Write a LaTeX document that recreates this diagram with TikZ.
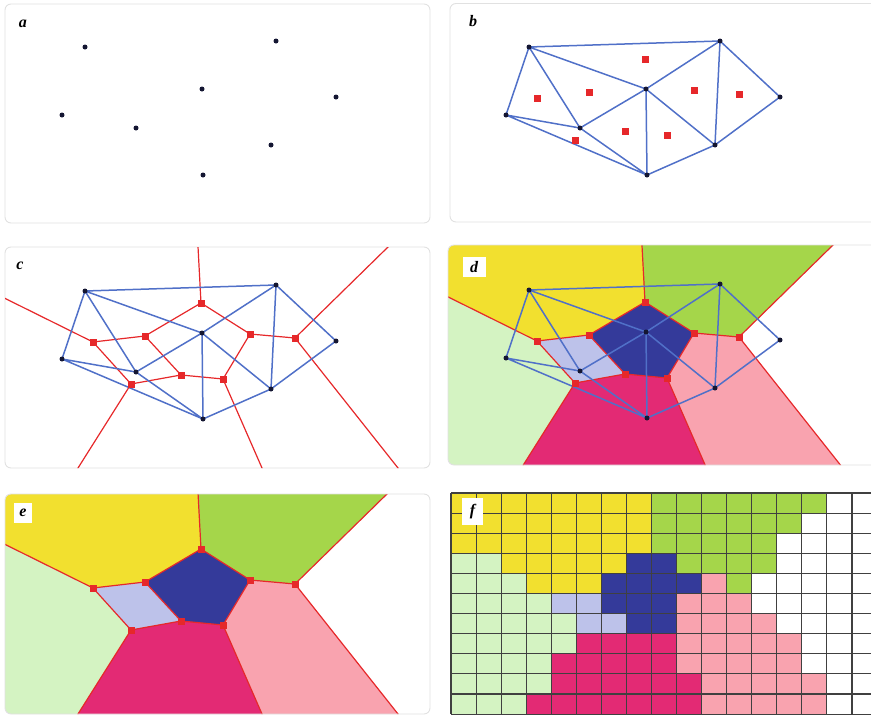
\documentclass[tikz,border=0pt]{standalone}
\usepackage{fontspec}
\setmainfont{Liberation Serif}
\begin{document}
\begin{tikzpicture}[x=1pt,y=-1pt]
\definecolor{cY}{RGB}{242,224,47}
\definecolor{cG}{RGB}{165,214,74}
\definecolor{cL}{RGB}{212,243,194}
\definecolor{cB}{RGB}{52,58,154}
\definecolor{cV}{RGB}{189,194,234}
\definecolor{cM}{RGB}{227,42,116}
\definecolor{cP}{RGB}{249,163,175}
\definecolor{cW}{RGB}{255,255,255}
\definecolor{vred}{RGB}{230,40,42}
\definecolor{delblue}{RGB}{80,112,200}
\definecolor{ptcol}{RGB}{20,22,50}
\definecolor{bord}{RGB}{225,225,225}
\tikzset{
 panel/.style={draw=bord, line width=0.9pt, rounded corners=6pt},
 dpt/.style={circle, fill=ptcol, inner sep=0pt, minimum size=5pt},
 del/.style={draw=delblue, line width=1.5pt, line join=round},
 vor/.style={draw=vred, line width=1.2pt, line join=round},
 vsq/.style={rectangle, fill=vred, inner sep=0pt, minimum size=7pt},
 lbl/.style={font=\fontsize{16}{16}\selectfont\bfseries\itshape, inner sep=0pt},
 lblbox/.style={fill=white, inner sep=0pt},
 gl/.style={draw=black!75, line width=1.1pt},
}
\useasboundingbox (0,0) rectangle (871,715);
\newcommand\mkpts[1]{%
 \coordinate (#1p1) at (85,47);
 \coordinate (#1p2) at (276,41);
 \coordinate (#1p3) at (202,89);
 \coordinate (#1p4) at (336,97);
 \coordinate (#1p5) at (62,115);
 \coordinate (#1p6) at (136,128);
 \coordinate (#1p7) at (271,145);
 \coordinate (#1p8) at (203,175);
 \coordinate (#1v1) at (201,59);
 \coordinate (#1v2) at (93,98);
 \coordinate (#1v3) at (145,92);
 \coordinate (#1v4) at (250,90);
 \coordinate (#1v5) at (295,94);
 \coordinate (#1v6) at (181,131);
 \coordinate (#1v7) at (223,135);
 \coordinate (#1v8) at (131,140);
 \coordinate (#1r1) at (196.8,-20);
 \coordinate (#1r2) at (-20,42);
 \coordinate (#1r3) at (411.5,-20);
 \coordinate (#1r4) at (418.6,250);
 \coordinate (#1r5) at (61.6,250);
 \coordinate (#1r6) at (273.4,250);
}
\newcommand\deledges[1]{%
 \draw[del] (#1p1)--(#1p2) (#1p1)--(#1p5) (#1p1)--(#1p6) (#1p1)--(#1p3)
  (#1p2)--(#1p3) (#1p2)--(#1p4) (#1p2)--(#1p7) (#1p4)--(#1p7)
  (#1p3)--(#1p7) (#1p3)--(#1p6) (#1p3)--(#1p8) (#1p5)--(#1p6)
  (#1p5)--(#1p8) (#1p6)--(#1p8) (#1p7)--(#1p8);}
\newcommand\voredges[1]{%
 \draw[vor] (#1v1)--(#1v3) (#1v1)--(#1v4) (#1v2)--(#1v3) (#1v2)--(#1v8)
  (#1v3)--(#1v6) (#1v4)--(#1v5) (#1v4)--(#1v7) (#1v6)--(#1v7) (#1v6)--(#1v8)
  (#1v1)--(#1r1) (#1v2)--(#1r2) (#1v5)--(#1r3) (#1v5)--(#1r4)
  (#1v8)--(#1r5) (#1v7)--(#1r6);}
\newcommand\vorsq[1]{%
 \foreach \k in {1,...,8} {\node[vsq] (#1sq\k) at (#1v\k) {};}}
\newcommand\drawpts[1]{%
 \foreach \k in {1,...,8} {\node[dpt] (#1pt\k) at (#1p\k) {};}}
\newcommand\regions[1]{%
 \fill[cY] (#1r1) -- (#1v1) -- (#1v3) -- (#1v2) -- (#1r2) -- (-20,-20) -- cycle;
 \fill[cG] (#1r1) -- (#1v1) -- (#1v4) -- (#1v5) -- (#1r3) -- cycle;
 \fill[cB] (#1v1) -- (#1v4) -- (#1v7) -- (#1v6) -- (#1v3) -- cycle;
 \fill[cL] (#1r2) -- (#1v2) -- (#1v8) -- (#1r5) -- (-20,250) -- cycle;
 \fill[cV] (#1v2) -- (#1v3) -- (#1v6) -- (#1v8) -- cycle;
 \fill[cM] (#1v8) -- (#1v6) -- (#1v7) -- (#1r6) -- (#1r5) -- cycle;
 \fill[cP] (#1v4) -- (#1v5) -- (#1r4) -- (#1r6) -- (#1v7) -- cycle;}
% ---------- panel a
\begin{scope}
 \mkpts{a}
 \draw[panel] (5,4) rectangle (430,223);
 \drawpts{a}
 \node[lbl] (la) at (23,24) {a};
\end{scope}
% ---------- panel b
\begin{scope}[shift={(444,0)}]
 \mkpts{b}
 \draw[panel] (6,3.5) rectangle (445,222);
 \deledges{b}
 \vorsq{b}
 \drawpts{b}
 \node[lbl] (lb) at (29,21) {b};
\end{scope}
% ---------- panel c
\begin{scope}[shift={(0,244)}]
 \mkpts{c}
 \draw[panel] (5,3) rectangle (430,224);
 \begin{scope}
  \clip[rounded corners=6pt] (5,3) rectangle (430,224);
  \voredges{c}
 \end{scope}
 \deledges{c}
 \vorsq{c}
 \drawpts{c}
 \node[lbl] (lc) at (20,22) {c};
\end{scope}
% ---------- panel d
\begin{scope}[shift={(444,243)}]
 \mkpts{d}
 \begin{scope}
  \clip[rounded corners=6pt] (4,2) rectangle (445,222);
  \regions{d}
  \voredges{d}
 \end{scope}
 \draw[panel] (4,2) rectangle (445,222);
 \deledges{d}
 \vorsq{d}
 \drawpts{d}
 \node[lblbox, minimum width=23pt, minimum height=20pt] (ldb) at (30,24) {};
 \node[lbl] (ld) at (30,24) {d};
\end{scope}
% ---------- panel e
\begin{scope}[shift={(0,490)}]
 \mkpts{e}
 \begin{scope}
  \clip[rounded corners=6pt] (5,4) rectangle (430,224);
  \regions{e}
  \voredges{e}
 \end{scope}
 \draw[panel] (5,4) rectangle (430,224);
 \vorsq{e}
 \node[lblbox, minimum width=18pt, minimum height=20pt] (leb) at (23,23) {};
 \node[lbl] (le) at (23,23) {e};
\end{scope}
% ---------- panel f
\begin{scope}
 \foreach \row [count=\r from 0] in {
  {Y,Y,Y,Y,Y,Y,Y,Y,G,G,G,G,G,G,G,W,W},
  {Y,Y,Y,Y,Y,Y,Y,Y,G,G,G,G,G,G,W,W,W},
  {Y,Y,Y,Y,Y,Y,Y,Y,G,G,G,G,G,W,W,W,W},
  {L,L,Y,Y,Y,Y,Y,B,B,G,G,G,G,W,W,W,W},
  {L,L,L,Y,Y,Y,B,B,B,B,P,G,W,W,W,W,W},
  {L,L,L,L,V,V,B,B,B,P,P,P,W,W,W,W,W},
  {L,L,L,L,L,V,V,B,B,P,P,P,P,W,W,W,W},
  {L,L,L,L,L,M,M,M,M,P,P,P,P,P,W,W,W},
  {L,L,L,L,M,M,M,M,M,P,P,P,P,P,W,W,W},
  {L,L,L,L,M,M,M,M,M,M,P,P,P,P,P,W,W},
  {L,L,L,M,M,M,M,M,M,M,P,P,P,P,P,W,W}} {
  \foreach \c [count=\i from 0] in \row {
   \fill[c\c] ({451+\i*25.06},{493+\r*20.1}) rectangle ++(25.06,20.1);
  }
 }
 \foreach \i in {0,...,17} {\draw[gl] ({451+\i*25.06},493) -- ({451+\i*25.06},714);}
 \foreach \r in {0,...,11} {\draw[gl] (451,{493+\r*20.1}) -- (880,{493+\r*20.1});}
 \node[lblbox, minimum width=21pt, minimum height=27pt] (lfb) at (472.5,511.5) {};
 \node[lbl] (lf) at (472.5,511.5) {f};
\end{scope}
\end{tikzpicture}
\end{document}
